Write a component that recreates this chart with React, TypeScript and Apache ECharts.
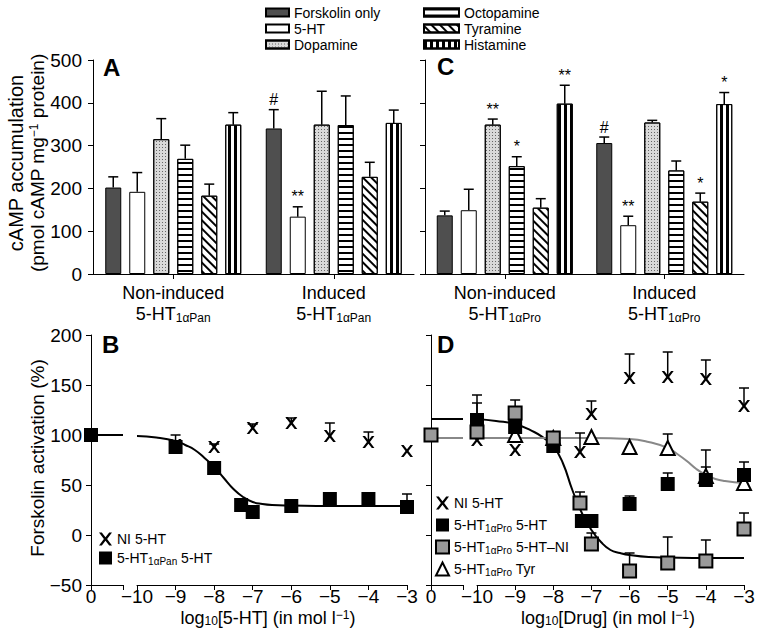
import React, { useEffect, useRef } from 'react';
import * as echarts from 'echarts';

const FONT = '"Liberation Sans", Arial, Helvetica, sans-serif';

// ---------- Panels A & C (bar charts) ----------
const drugNames = ['Forskolin only', '5-HT', 'Dopamine', 'Octopamine', 'Tyramine', 'Histamine'];
const groupsA = ['Non-induced\n5-HT{sub|1αPan}', 'Induced\n5-HT{sub|1αPan}'];
const groupsC = ['Non-induced\n5-HT{sub|1αPro}', 'Induced\n5-HT{sub|1αPro}'];

// rows follow drugNames; columns = [non-induced, induced]
const aMeans = [[202, 340], [192, 134], [315, 349], [269, 348], [183, 227], [349, 353]];
const aErrTop = [[227, 384], [237, 157], [363, 427], [301, 416], [210, 261], [377, 383]];
const aMarks = [['', '#'], ['', '**'], ['', ''], ['', ''], ['', ''], ['', '']];

const cMeans = [[137, 306], [149, 114], [349, 354], [252, 242], [155, 169], [398, 397]];
const cErrTop = [[147, 320], [198, 135], [362, 359], [274, 264], [176, 189], [441, 424]];
const cMarks = [['', '#'], ['', '**'], ['**', ''], ['*', ''], ['', '*'], ['**', '*']];

const campMin = 0;
const campMax = 500;
const campStep = 100;

// ---------- Panels B & D (concentration-response) ----------
const actMin = -50;
const actMax = 200;
const actStep = 50;
const logMin = -10;
const logMax = -3;
// x = 0 is the control (no drug) point drawn on the separate left axis piece

const bNiX = [-9, -8, -7, -6, -5, -4, -3];
const bNiY = [90, 88, 107, 112, 99, 93, 84];
const bNiErr = [null, 91, 111, 117, 112, 103, null];

const bPanX = [0, -9, -8, -7.3, -7, -6, -5, -4, -3];
const bPanY = [100, 88, 67, 30, 23, 29, 36, 36, 28];
const bPanErr = [null, 100, null, null, null, null, null, null, 41];

const bFitTop = 100;
const bFitX = [-10, -9.5, -9, -8.75, -8.5, -8.25, -8, -7.75, -7.5, -7.25, -7, -6.75, -6.5, -6, -5, -4, -3];
const bFitY = [99, 97.5, 94, 90, 85, 77, 68, 57, 46, 38, 33, 31, 30, 29.5, 29, 29, 29];

const dNiX = [-10, -9, -7.3, -7, -6, -5, -4, -3];
const dNiY = [95, 85, 83, 121, 157, 158, 156, 129];
const dNiErr = [132, null, 102, 134, 181, 183, 175, 147];

const dProX = [0, -10, -9, -8, -7.25, -7, -6, -5, -4, -3];
const dProY = [100, 115, 108, 89, 14, 14, 31, 51, 55, 60];
const dProErr = [null, 140, null, null, null, null, 39, 62, 68, 73];

const dProNiX = [0, -10, -9, -8, -7.3, -7, -6, -5, -4, -3];
const dProNiY = [100, 103, 122, 97, 32, -9, -36, -28, -26, 6];
const dProNiErr = [null, null, 135, null, 43, 2, -18, -2, -5, 22];

const dTyrX = [-9, -8, -7, -6, -5, -4, -3];
const dTyrY = [100, 97, 98, 88, 87, 59, 52];
const dTyrErr = [null, null, null, null, 101, 85, null];

const dProFitTop = 116;
const dProFitX = [-10, -9.5, -9, -8.5, -8.25, -8, -7.75, -7.5, -7.25, -7, -6.75, -6.5, -6.25, -6, -5.5, -5, -4, -3];
const dProFitY = [116, 114, 111, 103, 97, 89, 72, 45, 22, 5, -7, -15, -18, -20, -22, -22.5, -23, -23];

const dTyrFitTop = 97;
const dTyrFitX = [-10, -8, -7, -6, -5.5, -5, -4.75, -4.5, -4.25, -4, -3.75, -3.5, -3];
const dTyrFitY = [97, 97, 97, 96, 93, 87, 81, 74, 66, 60, 56, 54, 52];

const legendLabels: Record<string, string> = {
  'NI 5-HT': 'NI 5-HT',
  '5-HT1αPan 5-HT': '5-HT{sub|1αPan} 5-HT',
  '5-HT1αPro 5-HT': '5-HT{sub|1αPro} 5-HT',
  '5-HT1αPro 5-HT–NI': '5-HT{sub|1αPro} 5-HT–NI',
  '5-HT1αPro Tyr': '5-HT{sub|1αPro} Tyr',
};

// ---------- styles ----------
const BAR_W = 16;
const BAR_PITCH = BAR_W * 1.5;
const CAP = 5;
const SEG1_MAX = 1;
const CROSS = 'path://M0,0L2.6,0L6,4.3L9.4,0L12,0L7.5,6L12,12L9.4,12L6,7.7L2.6,12L0,12L4.5,6Z';

const barFills = ['#4f4f4f', '#ffffff', '#d9d9d9', '#ffffff', '#ffffff', '#ffffff'];
const barDecals: any[] = [
  null,
  null,
  { symbol: 'rect', symbolSize: 1, symbolKeepAspect: false, dashArrayX: [1, 2], dashArrayY: [1, 2], color: '#666' },
  { symbol: 'rect', symbolSize: 1, symbolKeepAspect: false, dashArrayX: [1, 0], dashArrayY: [2, 4], color: '#000' },
  { symbol: 'rect', symbolSize: 1, symbolKeepAspect: false, dashArrayX: [1, 0], dashArrayY: [2, 4], rotation: Math.PI / 4, color: '#000' },
  { symbol: 'rect', symbolSize: 1, symbolKeepAspect: false, dashArrayX: [3, 3], dashArrayY: [1, 0], color: '#000' },
];

const minus = (v: number) => String(v).replace('-', '\u2212');
const black = { color: '#000', width: 1 };
const subRich = { sub: { fontFamily: FONT, fontSize: 12, color: '#000', verticalAlign: 'bottom' } };

function barErrSeries(axis: number, means: number[][], errTop: number[][], marks: string[][]) {
  const rows: number[][] = [];
  const labels: string[] = [];
  means.forEach((vals, si) =>
    vals.forEach((v, ci) => {
      rows.push([ci, v, errTop[si][ci], si]);
      labels.push(marks[si][ci]);
    })
  );
  return {
    type: 'custom',
    xAxisIndex: axis,
    yAxisIndex: axis,
    z: 5,
    silent: true,
    encode: { x: 0, y: 1 },
    data: rows,
    renderItem: (params: any, api: any) => {
      const ci = api.value(0);
      const v = api.value(1);
      const t = api.value(2);
      const si = api.value(3);
      const p0 = api.coord([ci, v]);
      const p1 = api.coord([ci, t]);
      const x = p0[0] + (si - (drugNames.length - 1) / 2) * BAR_PITCH;
      const ls = { stroke: '#000', lineWidth: 1.5 };
      const children: any[] = [
        { type: 'line', shape: { x1: x, y1: p0[1], x2: x, y2: p1[1] }, style: ls },
        { type: 'line', shape: { x1: x - CAP, y1: p1[1], x2: x + CAP, y2: p1[1] }, style: ls },
      ];
      const m = labels[params.dataIndex];
      if (m) {
        children.push({
          type: 'text',
          x,
          y: p1[1] - 2,
          style: {
            text: m,
            fontSize: 16,
            fontFamily: FONT,
            fill: '#000',
            textAlign: 'center',
            textVerticalAlign: 'bottom',
            align: 'center',
            verticalAlign: 'bottom',
          },
        });
      }
      return { type: 'group', children };
    },
  };
}

function errSeries(axis: number, xs: number[], ys: number[], errs: (number | null)[]) {
  const rows = xs
    .map((x, i) => [x, ys[i], errs[i]])
    .filter((r) => r[2] !== null && r[0] !== 0) as number[][];
  return {
    type: 'custom',
    xAxisIndex: axis,
    yAxisIndex: axis,
    z: 2,
    silent: true,
    encode: { x: 0, y: 1 },
    data: rows,
    renderItem: (_p: any, api: any) => {
      const p0 = api.coord([api.value(0), api.value(1)]);
      const p1 = api.coord([api.value(0), api.value(2)]);
      const ls = { stroke: '#000', lineWidth: 1.5 };
      return {
        type: 'group',
        children: [
          { type: 'line', shape: { x1: p0[0], y1: p0[1], x2: p1[0], y2: p1[1] }, style: ls },
          { type: 'line', shape: { x1: p1[0] - CAP, y1: p1[1], x2: p1[0] + CAP, y2: p1[1] }, style: ls },
        ],
      };
    },
  };
}

function scatterPair(
  segAxis1: number,
  segAxis2: number,
  name: string,
  xs: number[],
  ys: number[],
  look: any
) {
  const all = xs.map((x, i) => [x, ys[i]]);
  const ctrl = all.filter((p) => p[0] === 0);
  const rest = all.filter((p) => p[0] !== 0);
  const out: any[] = [];
  if (ctrl.length) {
    out.push({ type: 'scatter', name, xAxisIndex: segAxis1, yAxisIndex: segAxis1, data: ctrl, clip: false, z: 3, ...look });
  }
  out.push({ type: 'scatter', name, xAxisIndex: segAxis2, yAxisIndex: segAxis2, data: rest, clip: false, z: 3, ...look });
  return out;
}

function curve(axis: number, xs: number[], ys: number[], color: string) {
  return {
    type: 'line',
    xAxisIndex: axis,
    yAxisIndex: axis,
    data: xs.map((x, i) => [x, ys[i]]),
    smooth: true,
    symbol: 'none',
    silent: true,
    z: 1,
    lineStyle: { color, width: 2 },
  };
}

function plateau(axis: number, value: number, color: string) {
  return {
    type: 'line',
    xAxisIndex: axis,
    yAxisIndex: axis,
    data: [[0, value], [SEG1_MAX, value]],
    symbol: 'none',
    silent: true,
    z: 1,
    lineStyle: { color, width: 2 },
  };
}

const looks = {
  ni: { symbol: CROSS, symbolSize: 12, itemStyle: { color: '#000', opacity: 1 } },
  black: { symbol: 'rect', symbolSize: 14, itemStyle: { color: '#000', opacity: 1 } },
  gray: { symbol: 'rect', symbolSize: 13, itemStyle: { color: '#9a9a9a', borderColor: '#000', borderWidth: 2, opacity: 1 } },
  tri: { symbol: 'triangle', symbolSize: 14, itemStyle: { color: '#fff', borderColor: '#000', borderWidth: 2, opacity: 1 } },
};

function catAxis(grid: number, data: string[]) {
  return {
    type: 'category',
    gridIndex: grid,
    data,
    axisLine: { lineStyle: black },
    axisTick: { show: true, alignWithLabel: true, length: 5, lineStyle: black },
    axisLabel: {
      interval: 0,
      fontFamily: FONT,
      fontSize: 18,
      color: '#000',
      lineHeight: 21,
      margin: 8,
      rich: subRich,
    },
    splitLine: { show: false },
  };
}

function logAxis(grid: number, seg1: boolean) {
  return {
    type: 'value',
    gridIndex: grid,
    min: seg1 ? 0 : logMin,
    max: seg1 ? SEG1_MAX : logMax,
    interval: 1,
    axisLine: { show: true, onZero: false, lineStyle: black },
    axisTick: { show: true, length: 5, lineStyle: black },
    axisLabel: {
      fontFamily: FONT,
      fontSize: 19,
      color: '#000',
      margin: 2,
      showMaxLabel: true,
      showMinLabel: true,
      formatter: seg1 ? (v: number) => (v === 0 ? '0' : '') : minus,
    },
    splitLine: { show: false },
  };
}

function valAxis(grid: number, min: number, max: number, step: number, labels: boolean, visible: boolean, margin: number) {
  return {
    type: 'value',
    gridIndex: grid,
    min,
    max,
    interval: step,
    show: visible,
    axisLine: { show: true, onZero: false, lineStyle: black },
    axisTick: { show: true, length: 5, lineStyle: black },
    axisLabel: { show: labels, fontFamily: FONT, fontSize: 19, color: '#000', margin, formatter: minus },
    splitLine: { show: false },
  };
}

function buildOption(): any {
  const barSeries = (axis: number, means: number[][]) =>
    drugNames.map((name, i) => ({
      type: 'bar',
      name,
      xAxisIndex: axis,
      yAxisIndex: axis,
      data: means[i],
      barWidth: BAR_W,
      barGap: '50%',
      z: 2,
      itemStyle: {
        color: barFills[i],
        borderColor: '#000',
        borderWidth: 1,
        ...(barDecals[i] ? { decal: barDecals[i] } : {}),
      },
    }));

  const textEl = (x: number, y: number, text: string, size: number, extra: any = {}) => ({
    type: 'text',
    x,
    y,
    silent: true,
    rotation: extra.rotation || 0,
    style: {
      text,
      fontSize: size,
      fontFamily: FONT,
      fill: '#000',
      textAlign: 'center',
      textVerticalAlign: 'middle',
      align: 'center',
      verticalAlign: 'middle',
      ...(extra.styleExtra || {}),
    },
  });

  const supRich = { sup: { fontFamily: FONT, fontSize: 12, fill: '#000', verticalAlign: 'top' }, sub: { fontFamily: FONT, fontSize: 12, fill: '#000', verticalAlign: 'bottom' } };
  const letter = (x: number, y: number, t: string) => ({
    type: 'text',
    x,
    y,
    silent: true,
    style: { text: t, fontSize: 24, fontWeight: 'bold', fontFamily: FONT, fill: '#000', textAlign: 'left', textVerticalAlign: 'middle', align: 'left', verticalAlign: 'middle' },
  });

  const legendCommon = {
    orient: 'vertical',
    selectedMode: false,
    padding: 0,
    textStyle: { fontFamily: FONT, fontSize: 14, color: '#000', lineHeight: 15, rich: { sub: { fontFamily: FONT, fontSize: 10, color: '#000', verticalAlign: 'bottom' } } },
  };

  return {
    animation: false,
    backgroundColor: '#fff',
    grid: [
      { left: 93, top: 60, width: 321, height: 214, outerBoundsMode: 'none' },
      { left: 425, top: 60, width: 319, height: 214, outerBoundsMode: 'none' },
      { left: 91, top: 335, width: 32, height: 250, outerBoundsMode: 'none' },
      { left: 137, top: 335, width: 270, height: 250, outerBoundsMode: 'none' },
      { left: 431, top: 335, width: 32, height: 250, outerBoundsMode: 'none' },
      { left: 477, top: 335, width: 267, height: 250, outerBoundsMode: 'none' },
    ],
    xAxis: [catAxis(0, groupsA), catAxis(1, groupsC), logAxis(2, true), logAxis(3, false), logAxis(4, true), logAxis(5, false)],
    yAxis: [
      valAxis(0, campMin, campMax, campStep, true, true, 11),
      valAxis(1, campMin, campMax, campStep, false, true, 8),
      valAxis(2, actMin, actMax, actStep, true, true, 9),
      valAxis(3, actMin, actMax, actStep, false, false, 8),
      valAxis(4, actMin, actMax, actStep, false, true, 8),
      valAxis(5, actMin, actMax, actStep, false, false, 8),
    ],
    legend: [
      { ...legendCommon, left: 265, top: 5, itemWidth: 23, itemHeight: 8, itemGap: 1, icon: 'rect', data: drugNames.slice(0, 3) },
      { ...legendCommon, left: 423, top: 5, itemWidth: 35, itemHeight: 8, itemGap: 1, icon: 'rect', data: drugNames.slice(3) },
      {
        ...legendCommon,
        left: 99,
        top: 531,
        itemWidth: 13,
        itemHeight: 13,
        itemGap: 3,
        textStyle: { ...legendCommon.textStyle, lineHeight: 16 },
        formatter: (n: string) => legendLabels[n] || n,
        data: ['NI 5-HT', '5-HT1αPan 5-HT'],
      },
      {
        ...legendCommon,
        left: 435,
        top: 495,
        itemWidth: 13,
        itemHeight: 13,
        itemGap: 6,
        textStyle: { ...legendCommon.textStyle, lineHeight: 16 },
        formatter: (n: string) => legendLabels[n] || n,
        data: ['NI 5-HT', '5-HT1αPro 5-HT', '5-HT1αPro 5-HT–NI', '5-HT1αPro Tyr'],
      },
    ],
    graphic: [
      textEl(16, 163, 'cAMP accumulation', 20, { rotation: Math.PI / 2 }),
      textEl(37, 163, '(pmol cAMP mg{sup|\u22121} protein)', 19, { rotation: Math.PI / 2, styleExtra: { rich: supRich } }),
      textEl(37, 458, 'Forskolin activation (%)', 19, { rotation: Math.PI / 2 }),
      textEl(268, 618, 'log{sub|10}[5-HT] (in mol l{sup|\u22121})', 18, { styleExtra: { rich: supRich } }),
      textEl(608, 618, 'log{sub|10}[Drug] (in mol l{sup|\u22121})', 18, { styleExtra: { rich: supRich } }),
      letter(103, 67, 'A'),
      letter(437, 66, 'C'),
      letter(102, 344, 'B'),
      letter(437, 344, 'D'),
    ],
    series: [
      ...barSeries(0, aMeans),
      ...barSeries(1, cMeans),
      barErrSeries(0, aMeans, aErrTop, aMarks),
      barErrSeries(1, cMeans, cErrTop, cMarks),

      // Panel B
      plateau(2, bFitTop, '#000'),
      curve(3, bFitX, bFitY, '#000'),
      errSeries(3, bNiX, bNiY, bNiErr),
      errSeries(3, bPanX, bPanY, bPanErr),
      ...scatterPair(2, 3, 'NI 5-HT', bNiX, bNiY, looks.ni),
      ...scatterPair(2, 3, '5-HT1αPan 5-HT', bPanX, bPanY, looks.black),

      // Panel D
      plateau(4, dProFitTop, '#000'),
      plateau(4, dTyrFitTop, '#888'),
      curve(5, dProFitX, dProFitY, '#000'),
      curve(5, dTyrFitX, dTyrFitY, '#888'),
      errSeries(5, dNiX, dNiY, dNiErr),
      errSeries(5, dTyrX, dTyrY, dTyrErr),
      errSeries(5, dProX, dProY, dProErr),
      errSeries(5, dProNiX, dProNiY, dProNiErr),
      ...scatterPair(4, 5, 'NI 5-HT', dNiX, dNiY, looks.ni),
      ...scatterPair(4, 5, '5-HT1αPro Tyr', dTyrX, dTyrY, looks.tri),
      ...scatterPair(4, 5, '5-HT1αPro 5-HT', dProX, dProY, looks.black),
      ...scatterPair(4, 5, '5-HT1αPro 5-HT–NI', dProNiX, dProNiY, looks.gray),
    ],
  };
}

export default function App() {
  const ref = useRef<HTMLDivElement>(null);
  useEffect(() => {
    if (!ref.current) return;
    const chart = echarts.init(ref.current, null, { renderer: 'svg' });
    chart.setOption(buildOption());
    return () => chart.dispose();
  }, []);
  return (
    <div
      ref={ref}
      style={{ position: 'fixed', left: 0, top: 0, width: 762, height: 644, background: '#fff' }}
    />
  );
}
